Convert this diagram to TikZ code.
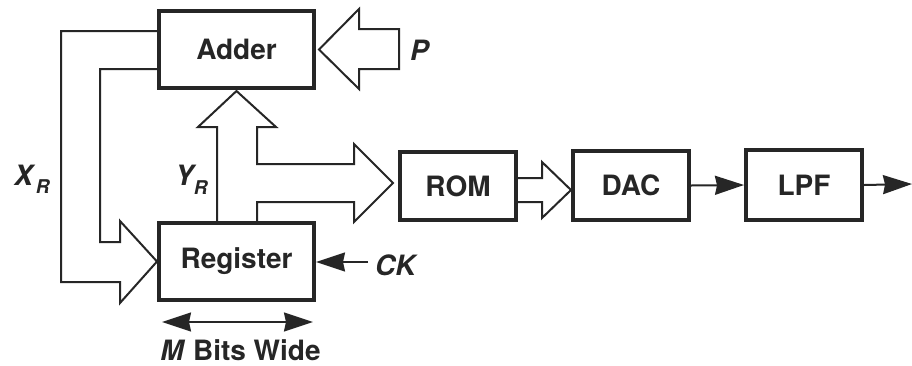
\documentclass[tikz,border=0pt]{standalone}
\usepackage{fontspec}
\setmainfont{TeX Gyre Heros}
\usetikzlibrary{arrows.meta,calc}
\definecolor{ink}{gray}{0.15}
\begin{document}
\begin{tikzpicture}[x=1pt,y=-1pt,
  box/.style={draw=ink, line width=4pt, inner sep=0pt, text=ink,
    font=\fontsize{28}{30}\selectfont\bfseries},
  lab/.style={inner sep=0pt, text=ink, font=\fontsize{28}{30}\selectfont\bfseries\itshape},
  bus/.style={draw=ink, line width=2pt, line join=miter},
  tipA/.tip={Stealth[length=29pt,width=19pt,inset=2pt]},
  sig/.style={draw=ink, line width=2pt, -{tipA}}]
\useasboundingbox[fill=white] (0,0) rectangle (912,365);
% blocks
\node[box, minimum width=155pt, minimum height=77pt] (adder) at (236.5,49.5) {Adder};
\node[box, minimum width=155pt, minimum height=77pt] (reg) at (236.5,261.5) {Register};
\node[box, minimum width=116pt, minimum height=68pt] (rom) at (458,186) {ROM};
\node[box, minimum width=116pt, minimum height=69pt] (dac) at (631,185.5) {DAC};
\node[box, minimum width=116pt, minimum height=70pt] (lpf) at (804,185) {LPF};
% labels
\node[lab, anchor=base west] (p) at (410,60) {P};
\node[lab, anchor=base west] (ck) at (375,275) {CK};
\node[lab, anchor=base west] (xr) at (14,185) {X\hspace{3pt}\raisebox{-8pt}{\fontsize{19}{19}\selectfont R}};
\node[lab, anchor=base west] (yr) at (175,185) {Y\hspace{0pt}\raisebox{-9pt}{\fontsize{19}{19}\selectfont R}};
\node[inner sep=0pt, text=ink, font=\fontsize{28}{30}\selectfont\bfseries, anchor=base] (mbw) at (240.5,360) {\textit{M} Bits Wide};
% P input bus
\draw[bus] (399,29) -- (359,29) -- (359,9) -- ($(adder.east)+(3,0)$) -- (359,89) -- (359,69) -- (399,69) -- cycle;
% X_R feedback bus
\draw[bus] (adder.west |- 0,31) -- (61,31) -- (61,282) -- (120,282) -- (120,303)
  -- (reg.west) -- (120,221) -- (120,242) -- (100,242) -- (100,69) -- (adder.west |- 0,69);
% Y_R bus
\draw[bus] (217,0 |- reg.north) -- (217,127) -- (198,127) -- ($(adder.south)+(0,1)$)
  -- (276,127) -- (257,127) -- (257,164) -- (354,164) -- (354,144) -- ($(rom.west)+(-5,-3)$)
  -- (354,222) -- (354,202) -- (257,202) -- (257,0 |- reg.north);
% ROM -> DAC bus
\draw[bus] (rom.east |- 0,178) -- (542,178) -- (542,162) -- (dac.west |- 0,190)
  -- (542,218) -- (542,202) -- (rom.east |- 0,202);
% signals
\draw[sig] (dac.east) -- (lpf.west);
\coordinate (out) at (912,184);
\draw[sig] (lpf.east) -- (out);
\coordinate (ckin) at (368,262);
\draw[sig] (ckin) -- (reg.east |- ckin);
\coordinate (ml) at (162,322);
\coordinate (mr) at (313,322);
\draw[sig, {tipA}-{tipA}] (ml) -- (mr);
\end{tikzpicture}
\end{document}
